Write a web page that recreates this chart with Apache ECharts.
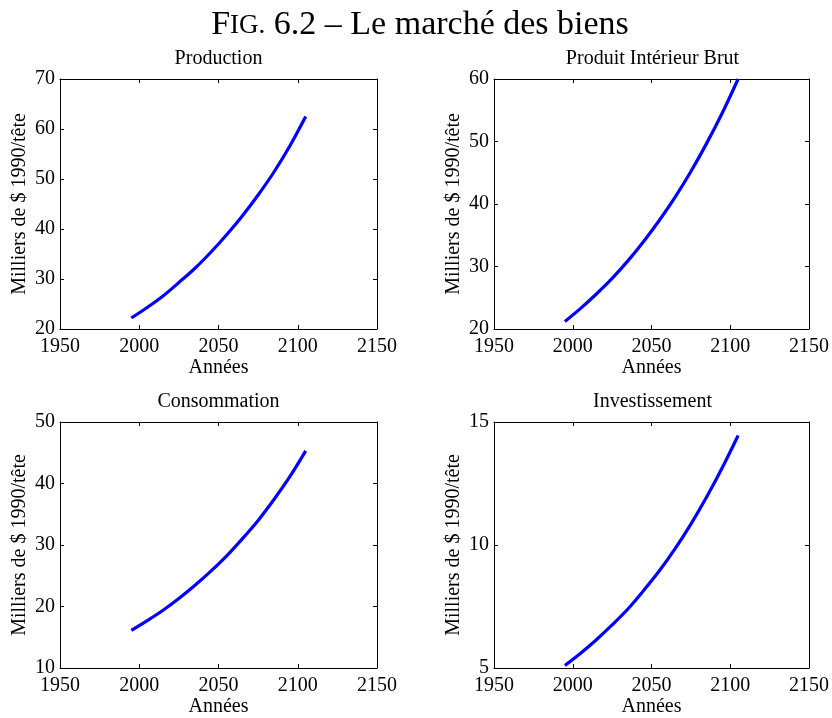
<!DOCTYPE html>
<html>
<head>
<meta charset="utf-8">
<script src="https://cdn.jsdelivr.net/npm/echarts@6/dist/echarts.min.js"></script>
<style>
html,body{margin:0;padding:0;background:#fff;}
#chart{width:832px;height:718px;}
</style>
</head>
<body>
<div id="chart"></div>
<script>
// ---- data ----
var years = [1995, 2005, 2015, 2025, 2035, 2045, 2055, 2065, 2075, 2085, 2095, 2105];
var production = [22.2, 24.3, 26.6, 29.3, 32.1, 35.3, 38.8, 42.6, 46.8, 51.4, 56.6, 62.5];
var pib = [21.2, 23.3, 25.6, 28.1, 30.9, 34.0, 37.4, 41.1, 45.2, 49.7, 54.6, 60.0];
var consommation = [16.1, 17.7, 19.4, 21.3, 23.4, 25.7, 28.2, 31.0, 34.0, 37.4, 41.1, 45.3];
var investissement = [5.1, 5.6, 6.15, 6.75, 7.4, 8.15, 8.95, 9.85, 10.85, 11.95, 13.15, 14.45];

var panelTitles = ['Production', 'Produit Intérieur Brut', 'Consommation', 'Investissement'];
var xTicks = [1950, 2000, 2050, 2100, 2150];
var yRanges = [[20, 70, 10], [20, 60, 10], [10, 50, 10], [5, 15, 5]];
var xName = 'Années';
var yName = 'Milliers de $ 1990/tête';
var mainTitle = '{a|F}{b|IG.}{c| 6.2 – Le marché des biens}';

var seriesValues = [production, pib, consommation, investissement];

// ---- layout ----
var FONT = 'Liberation Serif, Times New Roman, serif';
var grids = [
  {left: 60, top: 79, width: 317, height: 250},
  {left: 494, top: 79, width: 317, height: 250},
  {left: 60, top: 422, width: 317, height: 250},
  {left: 494, top: 422, width: 317, height: 250}
];

var titles = [{
  text: mainTitle,
  left: 420, top: 8, textAlign: 'center', padding: 0,
  textStyle: {
    fontFamily: FONT, fontWeight: 'normal', color: '#000', fontSize: 34,
    rich: {
      a: {fontFamily: FONT, fontSize: 34, color: '#000', verticalAlign: 'bottom'},
      b: {fontFamily: FONT, fontSize: 27, color: '#000', verticalAlign: 'bottom', padding: [0, 0, 3, 0]},
      c: {fontFamily: FONT, fontSize: 34, color: '#000', verticalAlign: 'bottom'}
    }
  }
}];
var xAxes = [], yAxes = [], series = [];
grids.forEach(function (g, i) {
  titles.push({
    text: panelTitles[i], left: g.left + g.width / 2, top: g.top - 30,
    textAlign: 'center', padding: 0,
    textStyle: {fontFamily: FONT, fontWeight: 'normal', color: '#000', fontSize: 20}
  });
  var r = yRanges[i];
  xAxes.push({
    type: 'value', gridIndex: i, min: xTicks[0], max: xTicks[xTicks.length - 1], interval: 50,
    name: xName, nameLocation: 'middle', nameGap: 29,
    nameTextStyle: {fontFamily: FONT, fontSize: 20, color: '#000'},
    axisLine: {show: true, lineStyle: {color: '#000', width: 1}},
    axisTick: {show: true, inside: true, length: 4, lineStyle: {color: '#000'}},
    axisLabel: {fontFamily: FONT, fontSize: 20, color: '#000', margin: 8, showMinLabel: true, showMaxLabel: true,
      formatter: function (v) { return String(v); }},
    splitLine: {show: false}
  });
  xAxes.push({
    type: 'value', gridIndex: i, position: 'top', min: xTicks[0], max: xTicks[xTicks.length - 1], interval: 50,
    axisLine: {show: true, lineStyle: {color: '#000', width: 1}},
    axisTick: {show: true, inside: true, length: 4, lineStyle: {color: '#000'}},
    axisLabel: {show: false}, splitLine: {show: false}
  });
  yAxes.push({
    type: 'value', gridIndex: i, min: r[0], max: r[1], interval: r[2],
    name: yName, nameLocation: 'middle', nameGap: 30, nameRotate: 90,
    nameTextStyle: {fontFamily: FONT, fontSize: 20, color: '#000'},
    axisLine: {show: true, lineStyle: {color: '#000', width: 1}},
    axisTick: {show: true, inside: true, length: 4, lineStyle: {color: '#000'}},
    axisLabel: {fontFamily: FONT, fontSize: 20, color: '#000', margin: 5, showMinLabel: true, showMaxLabel: true},
    splitLine: {show: false}
  });
  yAxes.push({
    type: 'value', gridIndex: i, position: 'right', min: r[0], max: r[1], interval: r[2],
    axisLine: {show: true, lineStyle: {color: '#000', width: 1}},
    axisTick: {show: true, inside: true, length: 4, lineStyle: {color: '#000'}},
    axisLabel: {show: false}, splitLine: {show: false}
  });
  series.push({
    type: 'line', xAxisIndex: 2 * i, yAxisIndex: 2 * i,
    data: years.map(function (y, k) { return [y, seriesValues[i][k]]; }),
    smooth: 0.35, showSymbol: false, symbol: 'none',
    lineStyle: {color: '#0000ff', width: 3.2}, animation: false
  });
});

var chart = echarts.init(document.getElementById('chart'), null, {renderer: 'canvas'});
chart.setOption({
  backgroundColor: '#fff',
  animation: false,
  title: titles,
  grid: grids.map(function (g) { return Object.assign({containLabel: false}, g); }),
  xAxis: xAxes,
  yAxis: yAxes,
  series: series
});
</script>
</body>
</html>
